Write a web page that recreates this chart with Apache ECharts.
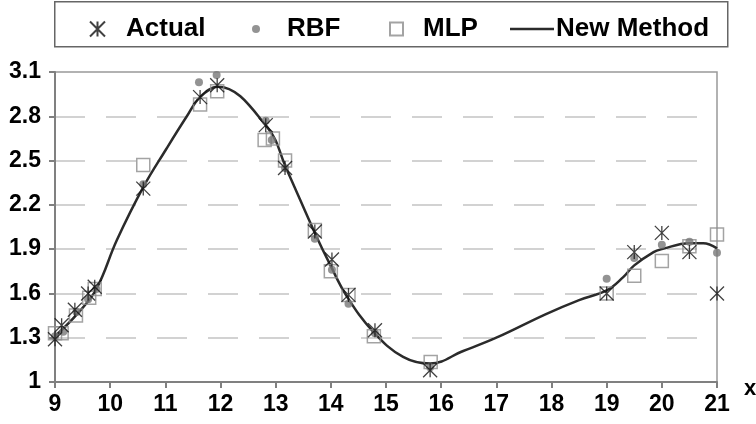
<!DOCTYPE html>
<html>
<head>
<meta charset="utf-8">
<script src="https://cdn.jsdelivr.net/npm/echarts@6/dist/echarts.min.js"></script>
<style>
html,body{margin:0;padding:0;background:#fff;}
#chart{width:756px;height:424px;}
</style>
</head>
<body>
<div id="chart"></div>
<script>
// ---- data ----
const yTicks = [1, 1.3, 1.6, 1.9, 2.2, 2.5, 2.8, 3.1];
const xTicks = [9, 10, 11, 12, 13, 14, 15, 16, 17, 18, 19, 20, 21];

const actualX = [9.0, 9.12, 9.36, 9.6, 9.72, 10.6, 11.63, 11.94, 12.82, 13.17, 13.71, 14.02, 14.32, 14.8, 15.8, 19.0, 19.5, 20.0, 20.5, 21.0];
const actualY = [1.29, 1.385, 1.49, 1.60, 1.645, 2.31, 2.93, 3.01, 2.74, 2.45, 2.02, 1.83, 1.59, 1.35, 1.08, 1.60, 1.88, 2.01, 1.88, 1.60];

const rbfX = [9.0, 9.15, 9.39, 9.6, 9.75, 10.6, 11.61, 11.93, 12.82, 12.93, 13.17, 13.71, 14.02, 14.32, 14.8, 15.8, 19.0, 19.5, 20.0, 20.5, 21.0];
const rbfY = [1.31, 1.34, 1.475, 1.56, 1.63, 2.34, 3.03, 3.08, 2.77, 2.64, 2.45, 1.97, 1.76, 1.53, 1.33, 1.10, 1.70, 1.84, 1.93, 1.95, 1.876];

const mlpX = [9.0, 9.12, 9.38, 9.62, 9.72, 10.6, 11.63, 11.94, 12.8, 12.95, 13.17, 13.71, 14.0, 14.32, 14.78, 15.81, 19.0, 19.5, 20.0, 20.5, 21.0];
const mlpY = [1.33, 1.33, 1.45, 1.57, 1.63, 2.47, 2.88, 2.97, 2.64, 2.65, 2.50, 2.03, 1.75, 1.59, 1.31, 1.136, 1.60, 1.72, 1.82, 1.92, 2.00];

const newX = [9.0, 9.4, 9.75, 10.12, 10.6, 11.02, 11.39, 11.63, 11.95, 12.84, 13.2, 13.71, 13.98, 14.29, 14.77, 15.31, 15.8, 16.4, 17.0, 17.9, 18.5, 19.0, 19.3, 19.5, 19.85, 20.0, 20.5, 20.75, 21.0];
const newY = [1.31, 1.46, 1.63, 1.96, 2.32, 2.58, 2.80, 2.93, 3.00, 2.73, 2.44, 2.01, 1.80, 1.58, 1.34, 1.17, 1.125, 1.21, 1.30, 1.46, 1.555, 1.62, 1.71, 1.79, 1.88, 1.90, 1.94, 1.94, 1.905];

const seriesNames = ['Actual', 'RBF', 'MLP', 'New Method'];

const pairs = (xs, ys) => xs.map((x, i) => [x, ys[i]]);

const FONT = '"Liberation Sans", Arial, sans-serif';
const starPath = 'path://M0,0L16,16M16,0L0,16M8,0L8,16';

const chart = echarts.init(document.getElementById('chart'), null, {renderer: 'canvas'});

const legendText = {fontFamily: FONT, fontWeight: 'bold', fontSize: 26, color: '#000'};

const option = {
  animation: false,
  backgroundColor: '#fff',
  grid: {left: 55, right: 39, top: 72, bottom: 42, show: true, borderColor: '#999', borderWidth: 1.5, containLabel: false, outerBoundsMode: 'none'},
  graphic: [{
    type: 'rect', left: 54, top: 1, shape: {x: 0, y: 0, width: 673, height: 45},
    style: {fill: 'rgba(0,0,0,0)', stroke: '#666', lineWidth: 1.5}, z: 100, silent: true
  }],
  legend: [
    {data: [seriesNames[0]], left: 84, top: 11, itemWidth: 15, itemHeight: 15, itemGap: 0, selectedMode: false,
      textStyle: Object.assign({padding: [0, 0, 0, 16]}, legendText)},
    {data: [seriesNames[1]], left: 247, top: 11, itemWidth: 8, itemHeight: 8, itemGap: 0, selectedMode: false,
      textStyle: Object.assign({padding: [0, 0, 0, 22]}, legendText)},
    {data: [seriesNames[2]], left: 384, top: 11, itemWidth: 13, itemHeight: 13, itemGap: 0, selectedMode: false,
      textStyle: Object.assign({padding: [0, 0, 0, 15]}, legendText)},
    {data: [{name: seriesNames[3], icon: 'rect', itemStyle: {color: '#2b2b2b'}}], left: 505, top: 11, itemWidth: 44, itemHeight: 2.5, itemGap: 0, selectedMode: false,
      textStyle: Object.assign({padding: [0, 0, 0, -3]}, legendText)}
  ],
  xAxis: {
    type: 'value', min: xTicks[0], max: xTicks[xTicks.length - 1], interval: 1,
    name: 'x', nameLocation: 'end', nameGap: 27,
    nameTextStyle: {fontFamily: FONT, fontWeight: 'bold', fontSize: 22, color: '#000', verticalAlign: 'top', padding: [-4, 0, 0, 0]},
    axisLine: {show: true, onZero: false, lineStyle: {color: '#808080', width: 2}},
    axisTick: {show: true, inside: false, length: 6, lineStyle: {color: '#808080', width: 2}},
    axisLabel: {fontFamily: FONT, fontWeight: 'bold', fontSize: 23, color: '#000', margin: 11},
    splitLine: {show: false}
  },
  yAxis: {
    type: 'value', min: yTicks[0], max: yTicks[yTicks.length - 1], interval: 0.3,
    axisLine: {show: true, onZero: false, lineStyle: {color: '#808080', width: 2}},
    axisTick: {show: true, inside: false, length: 6, lineStyle: {color: '#808080', width: 2}},
    axisLabel: {fontFamily: FONT, fontWeight: 'bold', fontSize: 23, color: '#000', margin: 14,
      formatter: v => String(Math.round(v * 10) / 10)},
    splitLine: {show: true, showMinLine: false, showMaxLine: false,
      lineStyle: {color: '#c4c4c4', width: 1.5, type: [30, 21]}}
  },
  series: [
    {
      name: seriesNames[3], type: 'line', data: pairs(newX, newY), smooth: 0.4,
      symbol: 'none', showSymbol: false, z: 2,
      lineStyle: {color: '#2b2b2b', width: 2.5}, itemStyle: {color: '#2b2b2b'},
      emphasis: {disabled: true}
    },
    {
      name: seriesNames[2], type: 'scatter', data: pairs(mlpX, mlpY), symbol: 'rect', symbolSize: 13, z: 3,
      itemStyle: {color: 'rgba(255,255,255,0)', borderColor: '#8c8c8c', borderWidth: 1.5},
      emphasis: {disabled: true}
    },
    {
      name: seriesNames[1], type: 'scatter', data: pairs(rbfX, rbfY), symbol: 'circle', symbolSize: 8, z: 4,
      itemStyle: {color: '#787878'},
      emphasis: {disabled: true}
    },
    {
      name: seriesNames[0], type: 'scatter', data: pairs(actualX, actualY), symbol: starPath, symbolSize: 14, z: 5,
      itemStyle: {color: 'rgba(0,0,0,0)', borderColor: '#111', borderWidth: 1.3},
      emphasis: {disabled: true}
    }
  ]
};
chart.setOption(option);
</script>
</body>
</html>
